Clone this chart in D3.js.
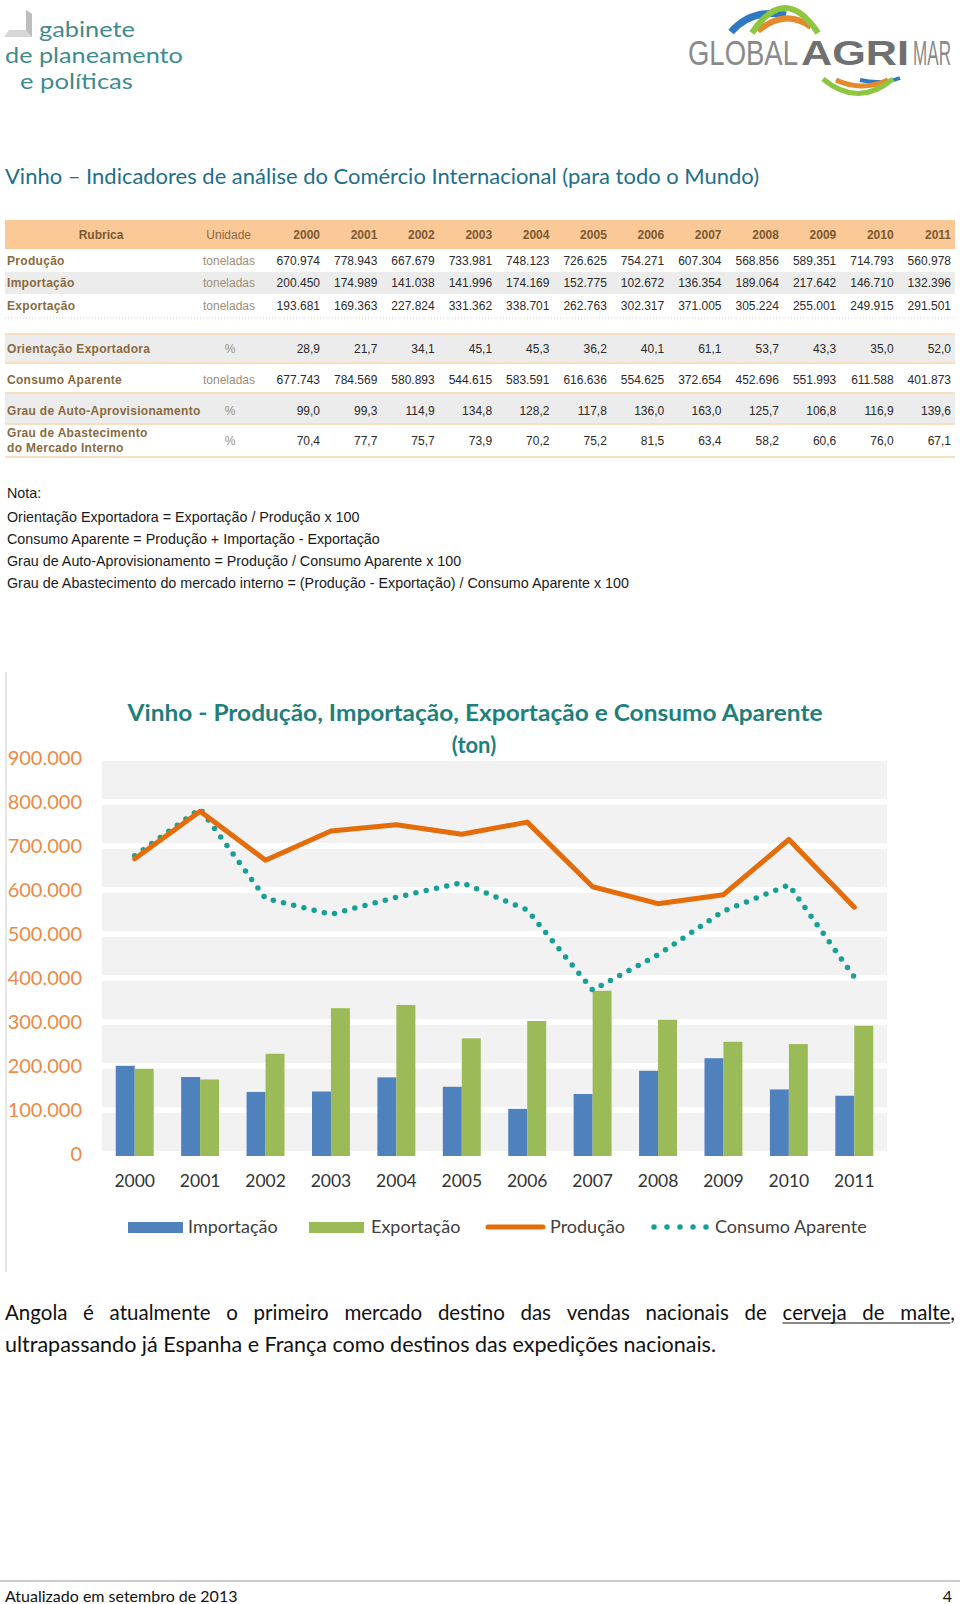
<!DOCTYPE html>
<html><head><meta charset="utf-8">
<script src="https://cdn.jsdelivr.net/npm/d3@7"></script>
<style>body{margin:0;background:#fff} svg{display:block}</style>
</head><body>
<svg id="page" width="960" height="1604"></svg>
<script>
// ---------- DATA ----------
const years = ["2000","2001","2002","2003","2004","2005","2006","2007","2008","2009","2010","2011"];
const producao   = [670974,778943,667679,733981,748123,726625,754271,607304,568856,589351,714793,560978];
const importacao = [200450,174989,141038,141996,174169,152775,102672,136354,189064,217642,146710,132396];
const exportacao = [193681,169363,227824,331362,338701,262763,302317,371005,305224,255001,249915,291501];
const orientacao = [28.9,21.7,34.1,45.1,45.3,36.2,40.1,61.1,53.7,43.3,35.0,52.0];
const consumo    = [677743,784569,580893,544615,583591,616636,554625,372654,452696,551993,611588,401873];
const autoAprov  = [99.0,99.3,114.9,134.8,128.2,117.8,136.0,163.0,125.7,106.8,116.9,139.6];
const abastec    = [70.4,77.7,75.7,73.9,70.2,75.2,81.5,63.4,58.2,60.6,76.0,67.1];
const yTicks = [0,100000,200000,300000,400000,500000,600000,700000,800000,900000];
const legendLabels = ["Importação","Exportação","Produção","Consumo Aparente"];
const notaLines = ["Nota:",
 "Orientação Exportadora = Exportação / Produção x 100",
 "Consumo Aparente = Produção + Importação - Exportação",
 "Grau de Auto-Aprovisionamento = Produção / Consumo Aparente x 100",
 "Grau de Abastecimento do mercado interno = (Produção - Exportação) / Consumo Aparente x 100"];
const pageTitle = "Vinho – Indicadores de análise do Comércio Internacional (para todo o Mundo)";
const chartTitle1 = "Vinho - Produção, Importação, Exportação e Consumo Aparente";
const chartTitle2 = "(ton)";

// ---------- SETUP ----------
const svg = d3.select("#page");
const loc = d3.formatLocale({decimal:",", thousands:".", grouping:[3], currency:["",""]});
const fInt = loc.format(",d");
const f1 = loc.format(",.1f");
const SANS = "'Liberation Sans', Arial, sans-serif";
const HUM = "Lato, 'Open Sans', sans-serif";

// fit a text horizontally to a target width by scaling (keeps real bbox)
function fitText(g, str, x, yb, w, styles){
  const gg = g.append("g");
  const t = gg.append("text").attr("x",0).attr("y",0).text(str);
  Object.entries(styles).forEach(([k,v])=>t.style(k,v));
  const nat = t.node().getComputedTextLength();
  gg.attr("transform",`translate(${x},${yb}) scale(${w/nat},1)`);
  return t;
}

// ---------- LOGOS ----------
const lg = svg.append("g");
lg.append("path").attr("d","M26,10 L32,14 L32,37 L4,37 L9,30 L26,30 Z").attr("fill","#d6d6d6");
lg.append("path").attr("d","M26,10 L32,14 L32,37 L26,30 Z").attr("fill","#bdbdbd");
[["gabinete",39,37,96],["de planeamento",5,63,178],["e políticas",20,89,113]].forEach(d=>{
  fitText(lg, d[0], d[1], d[2], d[3], {"font-family":HUM,"font-size":"22px","fill":"#3f8b8f"});
});

const rg = svg.append("g");
rg.append("path").attr("d","M731,32 Q752,8 786,15").attr("fill","none").attr("stroke","#2f79c2").attr("stroke-width",7);
rg.append("path").attr("d","M758,31 Q785,8 811,27").attr("fill","none").attr("stroke","#e58a2c").attr("stroke-width",6);
rg.append("path").attr("d","M752,33 Q785,-17 818,33").attr("fill","none").attr("stroke","#8dc641").attr("stroke-width",6);
rg.append("path").attr("d","M860,80 Q882,85 900,78").attr("fill","none").attr("stroke","#2f79c2").attr("stroke-width",4);
rg.append("path").attr("d","M836,80 Q862,92 888,80").attr("fill","none").attr("stroke","#e58a2c").attr("stroke-width",5);
rg.append("path").attr("d","M823,79 Q858,108 893,79").attr("fill","none").attr("stroke","#8dc641").attr("stroke-width",5);
[["GLOBAL",688,110,"normal","#8a8a8a"],["AGRI",801,108,"bold","#707070"],["MAR",913,38,"normal","#8a8a8a"]].forEach(d=>{
  fitText(rg, d[0], d[1], 65, d[2], {"font-family":SANS,"font-size":"36px","font-weight":d[3],"fill":d[4]});
});

// ---------- PAGE TITLE ----------
svg.append("text").attr("x",5).attr("y",184).text(pageTitle)
  .attr("textLength",754).attr("lengthAdjust","spacingAndGlyphs")
  .style("font-family",HUM).style("font-size","21.5px").style("fill","#1e6f8a");

// ---------- TABLE ----------
const colX = d3.scalePoint().domain(years).range([320,951]);
const T = svg.append("g").style("font-family",SANS).style("font-size","12px");
T.append("rect").attr("x",5).attr("y",220).attr("width",950).attr("height",29).attr("fill","#fbc898");
[[272,22],[334,29],[394,30]].forEach(r=>T.append("rect").attr("x",5).attr("y",r[0]).attr("width",950).attr("height",r[1]).attr("fill","#ececec"));
T.append("line").attr("x1",5).attr("x2",955).attr("y1",318).attr("y2",318).attr("stroke","#cfcfcf").attr("stroke-dasharray","1,2");
[334,363,393,424,457].forEach(yy=>T.append("line").attr("x1",5).attr("x2",955).attr("y1",yy).attr("y2",yy).attr("stroke","#f8dfbf").attr("stroke-width",2));
T.append("text").attr("x",101).attr("y",239).attr("text-anchor","middle").text("Rubrica").style("font-weight","bold").style("fill","#7c5a30");
T.append("text").attr("x",251).attr("y",239).attr("text-anchor","end").text("Unidade").style("fill","#8b6b45");
T.selectAll("text.hy").data(years).join("text").attr("class","hy").attr("x",d=>colX(d)).attr("y",239)
  .attr("text-anchor","end").text(d=>d).style("font-weight","bold").style("fill","#7c5a30");
const rows = [
  {label:["Produção"], unit:"toneladas", vals:producao, f:fInt, y:265},
  {label:["Importação"], unit:"toneladas", vals:importacao, f:fInt, y:287},
  {label:["Exportação"], unit:"toneladas", vals:exportacao, f:fInt, y:310},
  {label:["Orientação Exportadora"], unit:"%", vals:orientacao, f:f1, y:353},
  {label:["Consumo Aparente"], unit:"toneladas", vals:consumo, f:fInt, y:384},
  {label:["Grau de Auto-Aprovisionamento"], unit:"%", vals:autoAprov, f:f1, y:415},
  {label:["Grau de Abastecimento","do Mercado Interno"], unit:"%", vals:abastec, f:f1, y:445}
];
rows.forEach(r=>{
  r.label.forEach((l,i)=>{
    const ly = r.label.length>1 ? (i===0?437:452) : r.y;
    T.append("text").attr("x",7).attr("y",ly).text(l).style("font-weight","bold").style("fill","#8a6a40").style("letter-spacing","0.3px");
  });
  if(r.unit==="%") T.append("text").attr("x",230).attr("y",r.y).attr("text-anchor","middle").text("%").style("fill","#a08c76");
  else T.append("text").attr("x",255).attr("y",r.y).attr("text-anchor","end").text(r.unit).style("fill","#a08c76");
  T.selectAll(null).data(r.vals).join("text").attr("x",(d,i)=>colX(years[i])).attr("y",r.y)
    .attr("text-anchor","end").text(d=>r.f(d)).style("fill","#2a2a2a");
});

// ---------- NOTA ----------
svg.append("g").selectAll("text").data(notaLines).join("text")
  .attr("x",7).attr("y",(d,i)=>[498,522,544,566,588][i]).text(d=>d)
  .style("font-family",SANS).style("font-size","14.3px").style("fill","#1a1a1a");

// ---------- CHART ----------
const C = svg.append("g");
C.append("line").attr("x1",6).attr("x2",6).attr("y1",672).attr("y2",1272).attr("stroke","#dcdcdc").attr("stroke-width",1.5);
const x = d3.scaleBand().domain(years).range([102,887]).paddingInner(0.42).paddingOuter(0.21);
const xs = d3.scaleBand().domain(["imp","exp"]).range([0,x.bandwidth()]);
const y = d3.scaleLinear().domain([0,900000]).range([1154,758]);
C.append("rect").attr("x",102).attr("y",y(900000)).attr("width",785).attr("height",y(0)-y(900000)).attr("fill","#f2f2f2");
C.selectAll("line.grid").data(yTicks).join("line").attr("class","grid")
  .attr("x1",102).attr("x2",887).attr("y1",d=>y(d)).attr("y2",d=>y(d)).attr("stroke","#fff").attr("stroke-width",6);

const tc = d3.scaleOrdinal().domain(legendLabels).range(["#4f81bd","#9bbb59","#e46c0a","#17a095"]);

const yAxis = C.append("g").attr("transform","translate(82,0)")
  .call(d3.axisLeft(y).tickValues(yTicks).tickFormat(d=>fInt(d)).tickSize(0).tickPadding(0));
yAxis.select(".domain").remove();
yAxis.selectAll("text").style("font-family",HUM).style("font-size","20px").style("fill","#eb8a45");

const xAxis = C.append("g").attr("transform","translate(0,1154)")
  .call(d3.axisBottom(x).tickSize(0).tickPadding(21));
xAxis.select(".domain").remove();
xAxis.selectAll("text").style("font-family",HUM).style("font-size","17.5px").style("fill","#333");

C.selectAll("rect.imp").data(importacao).join("rect").attr("class","imp")
  .attr("x",(d,i)=>x(years[i])+xs("imp")).attr("width",xs.bandwidth())
  .attr("y",d=>y(d)).attr("height",d=>y(0)-y(d)+2).attr("fill",tc("Importação"));
C.selectAll("rect.exp").data(exportacao).join("rect").attr("class","exp")
  .attr("x",(d,i)=>x(years[i])+xs("exp")).attr("width",xs.bandwidth())
  .attr("y",d=>y(d)).attr("height",d=>y(0)-y(d)+2).attr("fill",tc("Exportação"));

const line = d3.line().x((d,i)=>x(years[i])+x.bandwidth()/2).y(d=>y(d));
C.append("path").datum(consumo).attr("d",line).attr("fill","none").attr("stroke",tc("Consumo Aparente"))
  .attr("stroke-width",5.5).attr("stroke-linecap","round").attr("stroke-dasharray","0 10.5");
C.append("path").datum(producao).attr("d",line).attr("fill","none").attr("stroke",tc("Produção"))
  .attr("stroke-width",5).attr("stroke-linejoin","round").attr("stroke-linecap","round");

C.append("text").attr("x",475).attr("y",721).attr("text-anchor","middle").text(chartTitle1)
  .attr("textLength",695).attr("lengthAdjust","spacingAndGlyphs")
  .style("font-family",HUM).style("font-size","22px").style("font-weight","bold").style("fill","#1f7f7c");
C.append("text").attr("x",474).attr("y",753).attr("text-anchor","middle").text(chartTitle2)
  .style("font-family",HUM).style("font-size","22px").style("font-weight","bold").style("fill","#1f7f7c");

const L = C.append("g").style("font-family",HUM).style("font-size","18px").style("fill","#404040");
const legItems = [
  {k:"Importação", sx:128, tx:188, type:"bar"},
  {k:"Exportação", sx:309, tx:371, type:"bar"},
  {k:"Produção", sx:486, tx:550, type:"line"},
  {k:"Consumo Aparente", sx:654, tx:715, type:"dot"}
];
legItems.forEach(it=>{
  if(it.type==="bar") L.append("rect").attr("x",it.sx).attr("y",1222).attr("width",55).attr("height",11).attr("fill",tc(it.k));
  else if(it.type==="line") L.append("line").attr("x1",it.sx+2).attr("x2",it.sx+57).attr("y1",1227).attr("y2",1227)
     .attr("stroke",tc(it.k)).attr("stroke-width",5).attr("stroke-linecap","round");
  else L.append("line").attr("x1",it.sx).attr("x2",it.sx+53).attr("y1",1227).attr("y2",1227)
     .attr("stroke",tc(it.k)).attr("stroke-width",5.5).attr("stroke-linecap","round").attr("stroke-dasharray","0 13");
  L.append("text").attr("x",it.tx).attr("y",1233).text(it.k);
});

// ---------- PARAGRAPH ----------
const P = svg.append("g").style("font-family",HUM).style("font-size","20.5px").style("fill","#111");
const line1Words = "Angola é atualmente o primeiro mercado destino das vendas nacionais de cerveja de malte,".split(" ");
const wsel = P.selectAll("text.w").data(line1Words).join("text").attr("class","w").attr("y",1320).text(d=>d);
const widths = []; wsel.each(function(){widths.push(this.getComputedTextLength());});
const total = d3.sum(widths), gap = (955-5-total)/(line1Words.length-1);
let cx = 5; const xsW = [];
widths.forEach(w=>{xsW.push(cx); cx += w+gap;});
wsel.attr("x",(d,i)=>xsW[i]);
const n = line1Words.length;
const commaT = P.append("text").text(",").attr("opacity",0);
const lastW = widths[n-1] - commaT.node().getComputedTextLength();
commaT.remove();
P.append("line").attr("x1",xsW[n-3]).attr("x2",xsW[n-1]+lastW).attr("y1",1323).attr("y2",1323).attr("stroke","#111").attr("stroke-width",1.2);
P.append("text").attr("x",5).attr("y",1352).text("ultrapassando já Espanha e França como destinos das expedições nacionais.")
  .attr("textLength",711).attr("lengthAdjust","spacingAndGlyphs");

// ---------- FOOTER ----------
svg.append("line").attr("x1",0).attr("x2",960).attr("y1",1581).attr("y2",1581).attr("stroke","#999").attr("stroke-width",1);
svg.append("text").attr("x",5).attr("y",1602).text("Atualizado em setembro de 2013").style("font-family",HUM).style("font-size","16px").style("fill","#111");
svg.append("text").attr("x",952).attr("y",1602).attr("text-anchor","end").text("4").style("font-family",HUM).style("font-size","16px").style("fill","#111");
</script>
</body></html>
